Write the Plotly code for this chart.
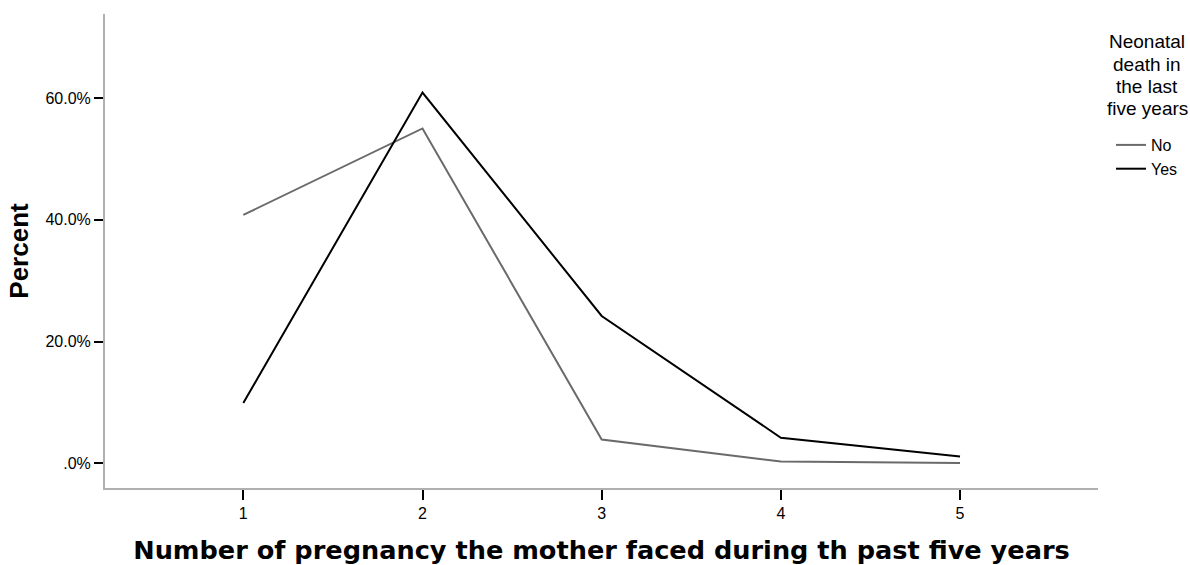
import plotly.graph_objects as go

categories = [1, 2, 3, 4, 5]
no_values = [40.8, 55.0, 3.9, 0.3, 0.05]
yes_values = [9.9, 60.9, 24.2, 4.2, 1.1]
series_names = ["No", "Yes"]
y_tick_vals = [0, 20, 40, 60]
y_tick_text = [".0%", "20.0%", "40.0%", "60.0%"]
legend_title_lines = ["Neonatal", "death in", "the last", "five years"]

FONT = "Liberation Sans, Arial, sans-serif"
WIDE_BOLD = "DejaVu Sans, Liberation Sans, sans-serif"

fig = go.Figure()
fig.add_trace(go.Scatter(x=categories, y=no_values, mode="lines", name=series_names[0],
                         line=dict(color="#6a6a6a", width=2)))
fig.add_trace(go.Scatter(x=categories, y=yes_values, mode="lines", name=series_names[1],
                         line=dict(color="#000000", width=2)))

# plot area at x 105-1098, y 14-488 (body margin removed via post_script)
W, H = 1190, 565
L, R, T, B = 105, 92, 14, 77
pw = W - L - R
ph = H - T - B


def px_x(xp):
    return (xp - L) / pw


def px_y(yp):
    return 1 - (yp - T) / ph


fig.update_layout(
    width=W, height=H,
    margin=dict(l=L, r=R, t=T, b=B, autoexpand=False),
    paper_bgcolor="white", plot_bgcolor="white",
    font=dict(family=FONT, color="black", size=16),
    showlegend=True,
    legend=dict(x=px_x(1111), y=px_y(128), xanchor="left", yanchor="top",
                font=dict(size=16, family=FONT), bgcolor="rgba(0,0,0,0)",
                itemwidth=30, tracegroupgap=0),
    xaxis=dict(range=[0.228, 5.77], tickvals=categories, ticktext=[str(c) for c in categories],
               showgrid=False, zeroline=False, showline=True, linecolor="#b0b0b0", linewidth=2,
               ticks="outside", ticklen=10, tickwidth=2, tickcolor="black",
               tickfont=dict(size=16, family=FONT),
               title=dict(text="<b>Number of pregnancy the mother faced during th past five years</b>",
                          font=dict(size=25.6, family=WIDE_BOLD), standoff=31)),
    yaxis=dict(range=[-4.06, 73.8], tickvals=y_tick_vals, ticktext=y_tick_text,
               showgrid=False, zeroline=False, showline=True, linecolor="#b0b0b0", linewidth=2,
               ticks="outside", ticklen=9, tickwidth=2, tickcolor="black",
               tickfont=dict(size=16, family=FONT),
               title=dict(text="<b>Percent</b>", font=dict(size=26, family=FONT), standoff=9)),
)

for i, line in enumerate(legend_title_lines):
    fig.add_annotation(text=line, x=px_x(1147), y=px_y(42 + 22.2 * i),
                       xref="paper", yref="paper", showarrow=False, xanchor="center", yanchor="middle",
                       font=dict(size=19, family=FONT, color="black"))

fig.write_html("out.html", config={"displayModeBar": False},
               post_script="document.body.style.margin='0';document.body.style.overflow='hidden';")
